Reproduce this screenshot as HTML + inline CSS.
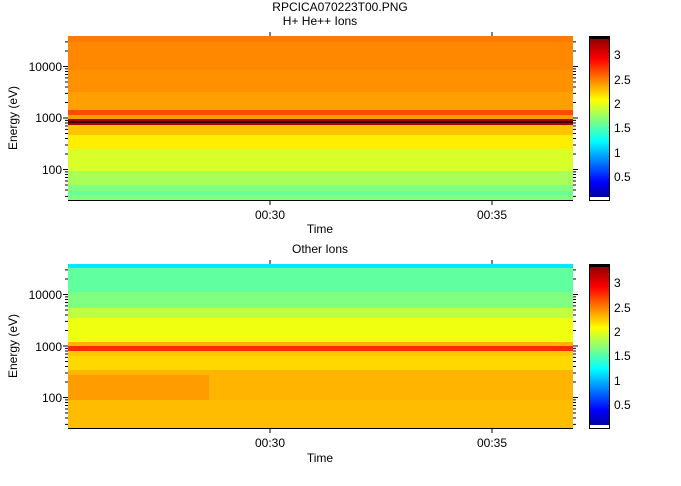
<!DOCTYPE html>
<html><head><style>
body{margin:0;background:#fff;}
svg text{font-family:"Liberation Sans",sans-serif;font-size:12px;fill:#000;}
</style></head><body>
<svg width="681" height="481" viewBox="0 0 681 481">
<defs>
<linearGradient id="jet" x1="0" y1="1" x2="0" y2="0">
<stop offset="0" stop-color="#00008f"/>
<stop offset="0.11" stop-color="#0000ff"/>
<stop offset="0.36" stop-color="#00ffff"/>
<stop offset="0.61" stop-color="#ffff00"/>
<stop offset="0.86" stop-color="#ff0000"/>
<stop offset="1" stop-color="#800000"/>
</linearGradient>
<g id="ticks">
<path d="M63 169.5H68M63 118H68M63 66.5H68 M65 196.4H68M65 190H68M65 185H68M65 181H68M65 177.5H68M65 174.5H68M65 171.9H68 M65 154H68M65 145H68M65 138.5H68M65 133.5H68M65 129.4H68M65 126H68M65 123H68M65 120.4H68 M65 102.5H68M65 93.4H68M65 87H68M65 82H68M65 77.9H68M65 74.5H68M65 71.5H68M65 68.9H68 M65 51H68M65 41.9H68" stroke="#000" stroke-width="1" fill="none"/>
<path d="M573 169.5H578M573 118H578M573 66.5H578 M573 196.4H576M573 190H576M573 185H576M573 181H576M573 177.5H576M573 174.5H576M573 171.9H576 M573 154H576M573 145H576M573 138.5H576M573 133.5H576M573 129.4H576M573 126H576M573 123H576M573 120.4H576 M573 102.5H576M573 93.4H576M573 87H576M573 82H576M573 77.9H576M573 74.5H576M573 71.5H576M573 68.9H576 M573 51H576M573 41.9H576" stroke="#000" stroke-width="1" fill="none"/>
</g>
</defs>
<text x="340" y="11" text-anchor="middle">RPCICA070223T00.PNG</text>
<text x="320" y="25" text-anchor="middle">H+ He++ Ions</text>
<!-- top panel -->
<g>
<rect x="68" y="36" width="505" height="164" fill="#ff9400"/>
<rect x="68" y="36" width="505" height="6" fill="#ff7a00"/>
<rect x="68" y="42" width="505" height="28" fill="#ff8800"/>
<rect x="68" y="70" width="505" height="22" fill="#ff9000"/>
<rect x="68" y="92" width="505" height="18" fill="#ffa000"/>
<rect x="68" y="110" width="505" height="5" fill="#ff4a00"/>
<rect x="68" y="115" width="505" height="4" fill="#ff9c00"/>
<rect x="68" y="119" width="505" height="6" fill="#b00000"/>
<rect x="68" y="121" width="505" height="2" fill="#300000"/>
<rect x="68" y="125" width="505" height="10" fill="#ffc400"/>
<rect x="68" y="135" width="505" height="14" fill="#ffee00"/>
<rect x="68" y="149" width="505" height="22" fill="#d8ff28"/>
<rect x="68" y="171" width="505" height="14" fill="#a8ff58"/>
<rect x="68" y="185" width="505" height="15" fill="#80ff80"/>
<rect x="68" y="191" width="505" height="4" fill="#68ff98"/>
<line x1="68" y1="200.5" x2="573" y2="200.5" stroke="#000"/>
<use href="#ticks"/>
<line x1="270" y1="32" x2="270" y2="36" stroke="#000"/><line x1="492" y1="32" x2="492" y2="36" stroke="#000"/>
<line x1="270" y1="200" x2="270" y2="205" stroke="#000"/><line x1="492" y1="200" x2="492" y2="205" stroke="#000"/>
<text x="62" y="71" text-anchor="end">10000</text>
<text x="62" y="122" text-anchor="end">1000</text>
<text x="62" y="174" text-anchor="end">100</text>
<text x="270" y="219" text-anchor="middle">00:30</text>
<text x="492" y="219" text-anchor="middle">00:35</text>
<text x="320" y="233" text-anchor="middle">Time</text>
<text transform="translate(17,118) rotate(-90)" text-anchor="middle">Energy (eV)</text>
</g>
<!-- colorbar top -->
<rect x="589" y="36" width="20" height="164" fill="url(#jet)"/>
<rect x="589" y="36" width="20" height="3" fill="#000"/>
<rect x="589" y="197" width="20" height="3" fill="#fff"/>
<rect x="589.5" y="36.5" width="20" height="164" fill="none" stroke="#000"/>
<text x="614" y="59">3</text><text x="614" y="84">2.5</text><text x="614" y="108">2</text>
<text x="614" y="132">1.5</text><text x="614" y="157">1</text><text x="614" y="181">0.5</text>
<!-- bottom panel -->
<text x="320" y="253" text-anchor="middle">Other Ions</text>
<g>
<rect x="68" y="264" width="505" height="164" fill="#ffb400"/>
<rect x="68" y="264" width="505" height="4" fill="#00e8ff"/>
<rect x="68" y="268" width="505" height="24" fill="#60ffa0"/>
<rect x="68" y="292" width="505" height="16" fill="#80ff80"/>
<rect x="68" y="308" width="505" height="10" fill="#c0ff40"/>
<rect x="68" y="318" width="505" height="24" fill="#f0ff10"/>
<rect x="68" y="342" width="505" height="4" fill="#ffb000"/>
<rect x="68" y="346" width="505" height="5" fill="#ff2a00"/>
<rect x="68" y="351" width="505" height="5" fill="#ffc800"/>
<rect x="68" y="356" width="505" height="14" fill="#ffd800"/>
<rect x="68" y="370" width="505" height="30" fill="#ffb400"/>
<rect x="68" y="375" width="141" height="28" fill="#ff9c00"/>
<rect x="68" y="400" width="505" height="28" fill="#ffbc00"/>
<line x1="68" y1="428.5" x2="573" y2="428.5" stroke="#000"/>
<use href="#ticks" transform="translate(0,228)"/>
<line x1="270" y1="260" x2="270" y2="264" stroke="#000"/><line x1="492" y1="260" x2="492" y2="264" stroke="#000"/>
<line x1="270" y1="428" x2="270" y2="433" stroke="#000"/><line x1="492" y1="428" x2="492" y2="433" stroke="#000"/>
<text x="62" y="299" text-anchor="end">10000</text>
<text x="62" y="351" text-anchor="end">1000</text>
<text x="62" y="402" text-anchor="end">100</text>
<text x="270" y="447" text-anchor="middle">00:30</text>
<text x="492" y="447" text-anchor="middle">00:35</text>
<text x="320" y="462" text-anchor="middle">Time</text>
<text transform="translate(17,346) rotate(-90)" text-anchor="middle">Energy (eV)</text>
</g>
<rect x="589" y="264" width="20" height="164" fill="url(#jet)"/>
<rect x="589" y="264" width="20" height="3" fill="#000"/>
<rect x="589" y="425" width="20" height="3" fill="#fff"/>
<rect x="589.5" y="264.5" width="20" height="164" fill="none" stroke="#000"/>
<text x="614" y="287">3</text><text x="614" y="312">2.5</text><text x="614" y="336">2</text>
<text x="614" y="360">1.5</text><text x="614" y="385">1</text><text x="614" y="409">0.5</text>
</svg>
</body></html>
